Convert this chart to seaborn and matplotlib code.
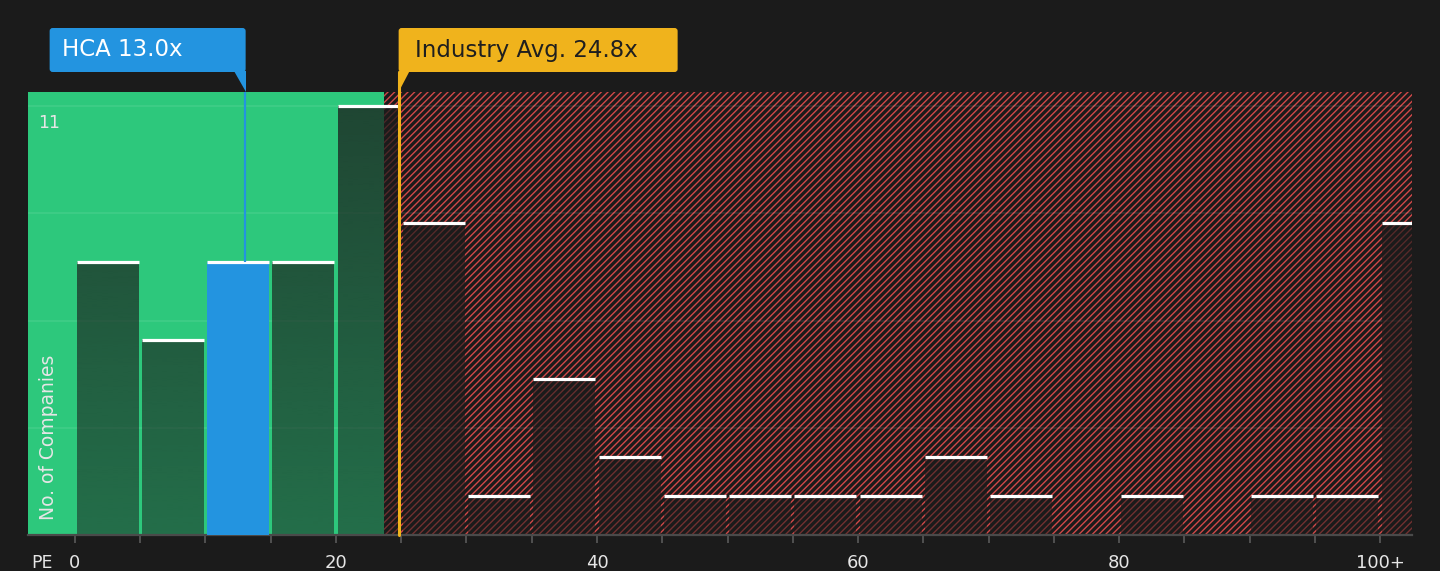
import numpy as np
import matplotlib
matplotlib.use("Agg")
import matplotlib.pyplot as plt
import matplotlib.transforms as mtransforms
from matplotlib.patches import FancyBboxPatch, Polygon
from matplotlib.colors import to_rgb
import seaborn as sns

# ---------------- data ----------------
bin_edges = list(range(0, 110, 5))            # 0,5,...,105 (last bin = 100+)
counts = [7, 5, 7, 7, 11, 8, 1, 4, 2, 1, 1, 1, 1, 2, 1, 0, 1, 0, 1, 1, 8]
tick_values = list(range(0, 105, 5))
tick_labels = ["0", "", "", "", "20", "", "", "", "40", "", "", "", "60",
               "", "", "", "80", "", "", "", "100+"]
company_name = "HCA"
company_pe = 13.0
industry_avg = 24.8
green_zone_end = 23.7
grid_values = [2.75, 5.5, 8.25, 11]
top_tick_value = 11
x_range = (-3.6, 102.45)
y_range = (0, 11.36)

# ---------------- style ----------------
BG = "#1b1b1b"
GREEN = "#2dc87c"
BLUE = "#2394e0"
GOLD = "#f0b31c"
RED = "#d04848"
TXT = "#e6e6e6"

sns.set_theme(style="dark")
plt.rcParams["font.family"] = ["DejaVu Sans"]
plt.rcParams["hatch.linewidth"] = 1.0

W, H = 1440, 571
fig = plt.figure(figsize=(W / 100, H / 100), dpi=100, facecolor=BG)
ax = fig.add_axes([28 / W, 1 - 535 / H, (1412 - 28) / W, (535 - 92) / H])
ax.set_facecolor(BG)

# background zones
ax.axvspan(x_range[0], green_zone_end, color=GREEN, lw=0, zorder=0)
ax.axvspan(green_zone_end, x_range[1], facecolor=BG, edgecolor=RED,
           hatch="/////", lw=0, zorder=0)

# gridlines
for g in grid_values:
    ax.axhline(g, color="white", alpha=0.09, lw=1.2, zorder=1)

# histogram bars
centers = [(a + b) / 2 for a, b in zip(bin_edges[:-1], bin_edges[1:])]
n_before = len(ax.patches)
sns.histplot(x=centers, weights=counts, bins=bin_edges, shrink=0.95,
             ax=ax, color=BG, edgecolor="none", linewidth=0, alpha=1)
bars = ax.patches[n_before:]

ax.set_xlim(*x_range)
ax.set_ylim(*y_range)

grad = np.zeros((256, 1, 4))
grad[..., :3] = to_rgb(BG)
grad[:, 0, 3] = np.linspace(0.76, 0.52, 256)

company_height = 0
for bar in bars:
    h = bar.get_height()
    x0 = bar.get_x()
    w = bar.get_width()
    if h <= 0:
        bar.set_visible(False)
        continue
    left_edge = x0 - (5 - w) / 2
    if left_edge <= company_pe < left_edge + 5:
        bar.set_facecolor(BLUE)
        bar.set_zorder(3)
        company_height = h
    else:
        bar.set_facecolor("none")
        bar.set_zorder(2)
        im = ax.imshow(grad, extent=(x_range[0], x_range[1], y_range[0], y_range[1]),
                       aspect="auto", origin="upper", zorder=2,
                       interpolation="bilinear")
        im.set_clip_path(bar)
    ax.hlines(h, x0, x0 + w, color="white", lw=2.3, zorder=4)

ax.set_xlim(*x_range)
ax.set_ylim(*y_range)

# company line
ax.plot([company_pe, company_pe], [company_height, y_range[1]],
        color=BLUE, lw=1.6, zorder=5, solid_capstyle="butt")
# industry average line (extends above axes up to label)
ax.axvline(industry_avg, ymin=0, ymax=1 + 20 / 443, color=GOLD, lw=2.2,
           zorder=6, clip_on=False)

# axes styling
for s in ["left", "right", "top"]:
    ax.spines[s].set_visible(False)
ax.spines["bottom"].set_color("#4a4a4a")
ax.spines["bottom"].set_linewidth(1.6)
ax.set_xticks(tick_values)
ax.set_xticklabels(tick_labels)
ax.tick_params(axis="x", colors="#555555", length=6, width=1.3, pad=8,
               labelcolor=TXT, labelsize=13, bottom=True)
ax.set_yticks([])
ax.set_xlabel("")
ax.set_ylabel("")
ax.grid(False)

ax.text(0.0101, -0.0632, "PE", transform=ax.transAxes, ha="center",
        va="center", color=TXT, fontsize=12.5)
ax.text(0.0152, top_tick_value - 0.2, str(top_tick_value),
        transform=ax.get_yaxis_transform(), ha="center", va="top",
        color=TXT, fontsize=12.5, zorder=7)
ax.text(0.0145, 0.034, "No. of Companies", transform=ax.transAxes,
        rotation=90, ha="center", va="bottom", color=TXT, fontsize=13.5,
        zorder=7)

# ---------------- label boxes (pixel coords from top-left) ----------------
px = mtransforms.Affine2D().scale(1 / W, -1 / H).translate(0, 1) + fig.transFigure
hca_px = ax.transData.transform((company_pe, 0))[0]
ind_px = ax.transData.transform((industry_avg, 0))[0]

# HCA box
bx1 = hca_px + 1
bx0 = bx1 - 196
fig.patches.append(FancyBboxPatch((bx0, 28), bx1 - bx0, 44,
                                  boxstyle="round,pad=0,rounding_size=3",
                                  transform=px, facecolor=BLUE, edgecolor="none"))
fig.patches.append(Polygon([(bx1 - 12, 71), (bx1, 71), (bx1, 92)], closed=True,
                           transform=px, facecolor=BLUE, edgecolor="none"))
fig.text(bx0 + 12, 50, f"{company_name} {company_pe:.1f}x", transform=px,
         ha="left", va="center", color="white", fontsize=16.5)

# Industry box
ix0 = ind_px
fig.patches.append(FancyBboxPatch((ix0, 28), 279, 44,
                                  boxstyle="round,pad=0,rounding_size=3",
                                  transform=px, facecolor=GOLD, edgecolor="none"))
fig.patches.append(Polygon([(ix0, 71), (ix0 + 11, 71), (ix0, 92)], closed=True,
                           transform=px, facecolor=GOLD, edgecolor="none"))
fig.text(ix0 + 16, 50, f"Industry Avg. {industry_avg:.1f}x", transform=px,
         ha="left", va="center", color="#1f1f1f", fontsize=16.5)

fig.savefig("out.png", dpi=100, facecolor=BG)
